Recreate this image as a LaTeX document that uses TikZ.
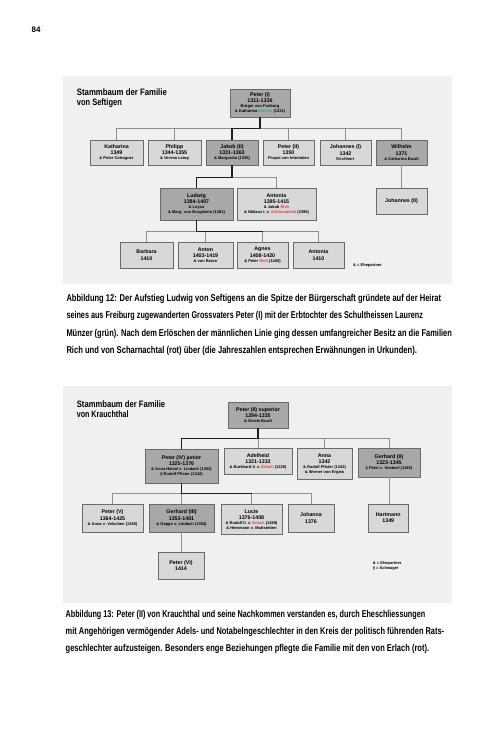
\documentclass[tikz,border=0pt]{standalone}
\usepackage{fontspec}
\usepackage{graphicx}
\setmainfont{Liberation Sans}
\definecolor{panelc}{HTML}{F0F0F0}
\definecolor{boxdark}{HTML}{A8A8A8}
\definecolor{boxlight}{HTML}{D8D8D8}
\definecolor{boxline}{HTML}{6A6A6A}
\definecolor{connc}{HTML}{8E8E8E}
\definecolor{linc}{HTML}{1E1E1E}
\definecolor{grn}{HTML}{2FA866}
\definecolor{rd}{HTML}{E23A36}
\tikzset{
 box/.style={draw=boxline, line width=0.6pt, inner sep=0pt, align=center, font=\fontsize{5.3}{6.3}\selectfont\bfseries},
 dbox/.style={box, fill=boxdark},
 lbox/.style={box, fill=boxlight},
 conn/.style={draw=connc, line width=0.9pt},
 lin/.style={draw=linc, line width=1.3pt, line join=miter},
 capline/.style={anchor=base west, inner sep=0pt, font=\fontsize{9.9}{11}\selectfont\bfseries},
 titleline/.style={anchor=base west, inner sep=0pt, font=\fontsize{9.3}{10}\selectfont\bfseries},
 legend/.style={anchor=base west, inner sep=0pt, font=\fontsize{4}{5}\selectfont\bfseries},
}
\newcommand\sm{\fontsize{4}{4.6}\selectfont}
\newcommand\bx[7]{%
 \pgfmathsetmacro\bw{#5-#3}\pgfmathsetmacro\bh{#6-#4}%
 \pgfmathsetmacro\bcx{(#3+#5)/2}\pgfmathsetmacro\bcy{(#4+#6)/2}%
 \node[#2, minimum width=\bw pt, minimum height=\bh pt] (#1) at (\bcx,\bcy) {#7};}
\begin{document}
\begin{tikzpicture}[x=1pt,y=-1pt]
\useasboundingbox (0,0) rectangle (500,729);
\fill[white] (0,0) rectangle (500,729);
\node[anchor=base west, inner sep=0pt, font=\fontsize{8}{9}\selectfont\bfseries] (pnum) at (31.5,32.7) {84};

% ---------- panel 1 ----------
\fill[panelc] (63,76) rectangle (452,284);
\node[titleline] (t1a) at (76.7,95) {\resizebox{90pt}{\height}{Stammbaum der Familie}};
\node[titleline] (t1b) at (76.7,105) {\resizebox{45pt}{\height}{von Seftigen}};

\bx{peterI}{dbox}{230}{89}{290}{117}{Peter (I)\\1311-1336\\[-1.4pt]{\sm Bürger von Freiburg}\\[-1.8pt]{\sm \& Katharina \textcolor{grn}{Münzer} (1331)}}
\bx{kath}{lbox}{90}{140}{143}{165}{Katharina\\1349\\[-1.2pt]{\sm \& Peter Cottagner}}
\bx{phil}{lbox}{148}{140}{201}{165}{Philipp\\1344-1355\\[-1.2pt]{\sm \& Verena Lemp}}
\bx{jakob}{dbox}{206}{140}{258}{165}{Jakob (II)\\1331-1363\\[-1.2pt]{\sm \& Margareta (1335)}}
\bx{peterII}{lbox}{263}{140}{314}{165}{Peter (II)\\1350\\[-1.2pt]{\sm Propst von Interlaken}}
\bx{johI}{lbox}{320}{140}{371}{165}{Johannes (I)\\1342\\[-1.2pt]{\sm Kirchherr}}
\bx{wilh}{dbox}{376}{140}{427}{165}{Wilhelm\\1371\\[-1.2pt]{\sm \& Katharina Buwli}}
\bx{ludwig}{dbox}{160}{188}{233}{220}{Ludwig\\1384-1407\\[-1.2pt]{\sm \& Loysa}\\[-1.8pt]{\sm \& Marg. von Burgistein (1381)}}
\bx{antonia}{lbox}{237}{188}{316}{220}{Antonia\\1395-1415\\[-1.2pt]{\sm \& Jakob \textcolor{rd}{Rich}}\\[-1.8pt]{\sm \& Niklaus I. v. \textcolor{rd}{Scharnachtal} (1395)}}
\bx{johII}{lbox}{376}{188}{427}{214}{Johannes (II)}
\bx{barbara}{lbox}{120}{242}{173}{268}{Barbara\\1410}
\bx{anton}{lbox}{178}{242}{233}{268}{Anton\\1403-1419\\[-1.2pt]{\sm \& von Raron}}
\bx{agnes}{lbox}{237}{242}{288}{268}{Agnes\\1408-1420\\[-1.2pt]{\sm \& Peter \textcolor{rd}{Rich} (1408)}}
\bx{antonia2}{lbox}{293}{242}{344}{268}{Antonia\\1410}
\node[legend] (leg1) at (353,266.5) {\& = Ehepartner};

\path (peterI.south) ++(0,11) coordinate (ta);
\foreach \c in {kath,phil,jakob,peterII,johI,wilh} \draw[conn] (\c.north) |- (ta);
\draw[conn] (wilh.south) -- (johII.north);
\path (jakob.south) ++(0,12.5) coordinate (tb);
\foreach \c in {ludwig,antonia} \draw[conn] (\c.north) |- (tb);
\path (ludwig.south) ++(0,11) coordinate (tc);
\foreach \c in {barbara,anton,agnes,antonia2} \draw[conn] (\c.north) |- (tc);
\draw[lin] (peterI.south) -- (ta) -- (ta -| jakob.north) -- (jakob.north);
\draw[lin] (jakob.south) -- (tb) -- (tb -| ludwig.north) -- (ludwig.north);
\draw[lin] (ludwig.south) -- (tc) -- (tc -| agnes.north);

% ---------- caption 1 ----------
\node[capline] (c1a) at (66.3,301.7) {\resizebox{374.7pt}{\height}{Abbildung 12: Der Aufstieg Ludwig von Seftigens an die Spitze der Bürgerschaft gründete auf der Heirat}};
\node[capline] (c1b) at (66.3,318.9) {\resizebox{356.4pt}{\height}{seines aus Freiburg zugewanderten Grossvaters Peter (I) mit der Erbtochter des Schultheissen Laurenz}};
\node[capline] (c1c) at (66.3,336.1) {\resizebox{385.4pt}{\height}{Münzer (grün). Nach dem Erlöschen der männlichen Linie ging dessen umfangreicher Besitz an die Familien}};
\node[capline] (c1d) at (66.3,353.3) {\resizebox{350.4pt}{\height}{Rich und von Scharnachtal (rot) über (die Jahreszahlen entsprechen Erwähnungen in Urkunden).}};

% ---------- panel 2 ----------
\fill[panelc] (63,386) rectangle (452,603);
\node[titleline] (t2a) at (76.7,407.3) {\resizebox{88.3pt}{\height}{Stammbaum der Familie}};
\node[titleline] (t2b) at (76.7,417.3) {\resizebox{51.6pt}{\height}{von Krauchthal}};

\bx{peterIIs}{dbox}{228}{402}{288}{428}{Peter (II) superior\\1294-1335\\[-1.2pt]{\sm \& Gisela Buwli}}
\bx{peterIV}{dbox}{145}{449}{218}{483}{Peter (IV) junior\\1325-1376\\[-1.2pt]{\sm \& Anna Hetzel v. Lindach (1353)}\\[-1.8pt]{\sm § Rudolf Pfister (1342)}}
\bx{adel}{lbox}{224}{448.5}{292}{474.5}{Adelheid\\1321-1333\\[-1.2pt]{\sm \& Burkhard II. v. \textcolor{rd}{Erlach} (1326)}}
\bx{anna}{lbox}{297}{448.5}{352}{479.5}{Anna\\1342\\[-1.2pt]{\sm \& Rudolf Pfister (1342)}\\[-1.8pt]{\sm \& Werner von Ergöw}}
\bx{gerhII}{dbox}{358}{448.5}{420}{477}{Gerhard (II)\\1323-1345\\[-1.2pt]{\sm § Peter v. Seedorf (1345)}}
\bx{peterV}{lbox}{82}{504}{143}{532}{Peter (V)\\1364-1425\\[-1.2pt]{\sm \& Anna v. Velschen (1365)}}
\bx{gerhIII}{dbox}{149}{504}{214}{532}{Gerhard (III)\\1353-1401\\[-1.2pt]{\sm \& Geppe v. Lindach (1353)}}
\bx{lucie}{lbox}{221}{504}{282}{534.5}{Lucie\\1376-1408\\[-1.2pt]{\sm \& Rudolf II. v. \textcolor{rd}{Erlach} (1369)}\\[-1.8pt]{\sm \& Hemmann v. Mattstetten}}
\bx{johanna}{lbox}{288}{504}{334}{532}{Johanna\\1376}
\bx{hartmann}{lbox}{368}{504}{408.5}{532}{Hartmann\\1349}
\bx{peterVI}{lbox}{158}{552}{204}{579.5}{Peter (VI)\\1414}
\node[legend] (leg2a) at (372.7,564) {\& = Ehepartner};
\node[legend] (leg2b) at (372.7,569.5) {§ = Schwager};

\path (peterIIs.south) ++(0,10) coordinate (ba);
\foreach \c in {peterIV,adel,anna,gerhII} \draw[conn] (\c.north) |- (ba);
\path (peterIV.south) ++(0,10.5) coordinate (bb);
\foreach \c in {peterV,gerhIII,lucie,johanna} \draw[conn] (\c.north) |- (bb);
\draw[conn] (gerhII.south) -- (gerhII.south |- hartmann.north);
\draw[conn] (gerhIII.south) -- (gerhIII.south |- peterVI.north);
\draw[lin] (peterIIs.south) -- (ba) -- (ba -| peterIV.north) -- (peterIV.north);
\draw[lin] (peterIV.south) -- (bb) -- (bb -| lucie.north);

% ---------- caption 2 ----------
\node[capline] (c2a) at (65.5,617.3) {\resizebox{359.5pt}{\height}{Abbildung 13: Peter (II) von Krauchthal und seine Nachkommen verstanden es, durch Eheschliessungen}};
\node[capline] (c2b) at (65.5,634.5) {\resizebox{378.5pt}{\height}{mit Angehörigen vermögender Adels- und Notabelngeschlechter in den Kreis der politisch führenden Rats-}};
\node[capline] (c2c) at (65.5,651.7) {\resizebox{363.5pt}{\height}{geschlechter aufzusteigen. Besonders enge Beziehungen pflegte die Familie mit den von Erlach (rot).}};
\end{tikzpicture}
\end{document}
